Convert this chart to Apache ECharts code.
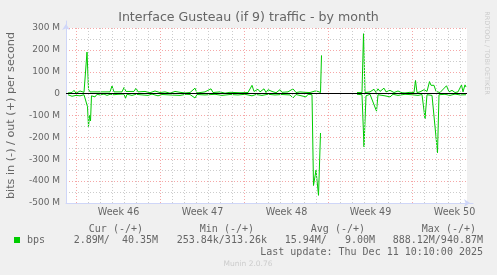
<!DOCTYPE html>
<html><head><meta charset="utf-8">
<script src="https://cdn.jsdelivr.net/npm/echarts@6/dist/echarts.min.js"></script>
<style>html,body{margin:0;padding:0;background:#F0F0F0;}#c{width:497px;height:275px;}</style>
</head><body><div id="c"></div>
<script>
// Time unit: hours since Monday 00:00 of ISO week 46
const weekNames = ['Week 46', 'Week 47', 'Week 48', 'Week 49', 'Week 50'];
const weekStarts = [0, 168, 336, 504, 672];
const yTicks = [-500, -400, -300, -200, -100, 0, 100, 200, 300];

// out (+) traffic, Mbit/s
const outHours = [-17,-13,-9,-5,-1,3,7,11,15,19,21,24,27,31,67,71,75,91,95,99,103,115,119,123,127,137,147,157,167,177,187,197,207,217,227,237,241,257,269,273,287,297,307,327,343,351,355,363,367,375,379,383,391,399,407,411,423,433,439,447,457,467,477,483,488,490,525,561,571,574,577,587,595,599,603,607,615,619,627,635,643,651,657,667,675,678,681,687,695,701,706,709,715,719,727,740,745,751,757,763,770,773,777,779];
const outValues = [3,12,5,15,2,8,12,4,6,10,190,20,8,10,8,35,8,8,28,10,12,10,25,8,6,10,4,12,5,8,2,10,6,3,5,25,3,8,22,5,8,2,6,4,5,38,10,20,8,22,5,18,10,4,18,6,8,22,5,8,6,5,12,10,5,175,null,5,5,274,5,8,20,5,22,10,25,8,15,5,12,4,3,6,5,60,5,8,18,10,55,38,38,10,5,36,8,15,5,8,40,8,40,30];

// in (-) traffic, Mbit/s (drawn negative)
const inHours = [-17,-13,-9,-5,-1,3,7,11,15,19,22,24,26,28,30,33,37,41,47,55,61,67,75,83,95,98,101,111,119,127,143,151,163,171,187,207,219,227,237,241,257,277,291,307,323,337,351,359,371,383,397,411,427,433,439,459,463,471,474,479,484,488,525,561,571,575,579,587,600,603,617,627,633,643,657,671,683,691,697,701,711,722,725,737,747,757,767,779];
const inValues = [-5,-2,-12,-3,-8,-2,-10,-3,-5,-8,-60,-150,-100,-125,-10,-5,-15,-3,-6,-2,-8,-3,-5,-3,-2,-21,-3,-8,-3,-5,-8,-2,-10,-4,-6,-8,-3,-4,-20,-4,-6,-3,-8,-4,-6,-3,-10,-4,-8,-3,-6,-4,-6,-20,-4,-15,-3,-5,-420,-350,-465,-180,null,-3,-5,-243,-10,-3,-80,-5,-10,-15,-3,-8,-3,-5,-8,-4,-115,-5,-8,-270,-5,-3,-8,-2,-6,-5];

const legendHead = ['Cur (-/+)', 'Min (-/+)', 'Avg (-/+)', 'Max (-/+)'];
const legendVals = ['2.89M/  40.35M', '253.84k/313.26k', '15.94M/   9.00M', '888.12M/940.87M'];

const pair = (h, v) => h.map((x, i) => [x, v[i]]);
const dayLines = [];
for (let d = 24; d < 781; d += 24) if (d % 168 !== 0) dayLines.push({xAxis: d});
const weekLines = weekStarts.map(w => ({xAxis: w}));

const FONT = 'DejaVu Sans';
const MONO = 'DejaVu Sans Mono';
const col = '#666666';
const colHead = [143, 254, 365, 476];
const colVal = [158, 267, 375, 483];

const chart = echarts.init(document.getElementById('c'), null, {renderer: 'canvas'});
const graphics = [];
legendHead.forEach((t, i) => graphics.push({type: 'text', x: colHead[i], y: 229, style: {text: t, font: '10px ' + MONO, fill: col, align: 'right', verticalAlign: 'middle'}}));
legendVals.forEach((t, i) => graphics.push({type: 'text', x: colVal[i], y: 240.5, style: {text: t, font: '10px ' + MONO, fill: col, align: 'right', verticalAlign: 'middle'}}));
graphics.push({type: 'rect', shape: {x: 14, y: 237, width: 6, height: 6}, style: {fill: '#00CC00'}});
graphics.push({type: 'text', x: 27, y: 240.5, style: {text: 'bps', font: '10px ' + MONO, fill: col, align: 'left', verticalAlign: 'middle'}});
graphics.push({type: 'text', x: 483, y: 252, style: {text: 'Last update: Thu Dec 11 10:10:00 2025', font: '10px ' + MONO, fill: col, align: 'right', verticalAlign: 'middle'}});
graphics.push({type: 'text', x: 248, y: 264, style: {text: 'Munin 2.0.76', font: '7.5px ' + FONT, fill: '#cccccc', align: 'center', verticalAlign: 'middle'}});
graphics.push({type: 'text', x: 487, y: 53, rotation: -Math.PI / 2, style: {text: 'RRDTOOL / TOBI OETIKER', font: '6.5px ' + FONT, fill: '#cccccc', align: 'center', verticalAlign: 'middle'}});

chart.setOption({
  animation: false,
  backgroundColor: '#F0F0F0',
  title: {text: 'Interface Gusteau (if 9) traffic - by month', left: 'center', top: 11, padding: 0,
    textStyle: {fontFamily: FONT, fontSize: 12.6, fontWeight: 'normal', color: col}},
  grid: [
    {left: 66, right: 30, top: 28, bottom: 72, show: true, backgroundColor: '#FFFFFF', borderWidth: 0, outerBoundsMode: 'none'},
    {left: 66, right: 24, top: 21, bottom: 72, show: false, outerBoundsMode: 'none'}
  ],
  xAxis: [
    {type: 'value', gridIndex: 0, min: -21, max: 781,
      axisLine: {show: false}, axisTick: {show: false}, splitLine: {show: false},
      axisLabel: {customValues: weekStarts.map(w => w + 84), formatter: v => weekNames[Math.round((v - 84) / 168)],
        fontFamily: FONT, fontSize: 9.6, color: col, margin: 4}},
    {type: 'value', gridIndex: 1, min: 0, max: 1, axisLabel: {show: false}, axisTick: {show: false}, splitLine: {show: false},
      axisLine: {show: true, lineStyle: {color: '#CFD6F8', width: 1}, symbol: ['none', 'arrow'], symbolSize: [6, 6], symbolOffset: [0, -3]}}
  ],
  yAxis: [
    {type: 'value', gridIndex: 0, min: -500, max: 300, interval: 100,
      name: 'bits in (-) / out (+) per second', nameLocation: 'middle', nameRotate: 90, nameGap: 49,
      nameTextStyle: {fontFamily: FONT, fontSize: 11.2, color: col},
      axisLine: {show: false}, axisTick: {show: false},
      axisLabel: {formatter: v => v === 0 ? '0' : v + ' M', fontFamily: FONT, fontSize: 9, color: col, margin: 6},
      splitLine: {show: true, lineStyle: {color: 'rgba(235,80,80,0.5)', type: [1, 2], width: 1}},
      minorTick: {show: false, splitNumber: 2},
      minorSplitLine: {show: true, lineStyle: {color: '#cccccc', type: [1, 2], width: 1}}},
    {type: 'value', gridIndex: 1, min: 0, max: 1, axisLabel: {show: false}, axisTick: {show: false}, splitLine: {show: false},
      axisLine: {show: true, lineStyle: {color: '#CFD6F8', width: 1}, symbol: ['none', 'arrow'], symbolSize: [6, 6], symbolOffset: [0, -3]}}
  ],
  graphic: graphics,
  series: [
    {type: 'line', data: [], silent: true, z: 1,
      markLine: {silent: true, symbol: 'none', label: {show: false}, animation: false,
        data: dayLines.map(d => Object.assign({lineStyle: {color: '#cccccc', type: [1, 2], width: 1}}, d))
          .concat(weekLines.map(d => Object.assign({lineStyle: {color: 'rgba(235,80,80,0.5)', type: [1, 2], width: 1}}, d)))}},
    {type: 'line', name: 'out', data: pair(outHours, outValues), showSymbol: false, connectNulls: false, z: 3,
      lineStyle: {color: '#00CC00', width: 1}, itemStyle: {color: '#00CC00'}},
    {type: 'line', name: 'in', data: pair(inHours, inValues), showSymbol: false, connectNulls: false, z: 3,
      lineStyle: {color: '#00CC00', width: 1}, itemStyle: {color: '#00CC00'}},
    {type: 'line', data: [], silent: true, z: 5,
      markLine: {silent: true, symbol: 'none', label: {show: false}, animation: false,
        data: [{yAxis: 0, lineStyle: {color: '#000000', type: 'solid', width: 1}}]}}
  ]
});
</script></body></html>
